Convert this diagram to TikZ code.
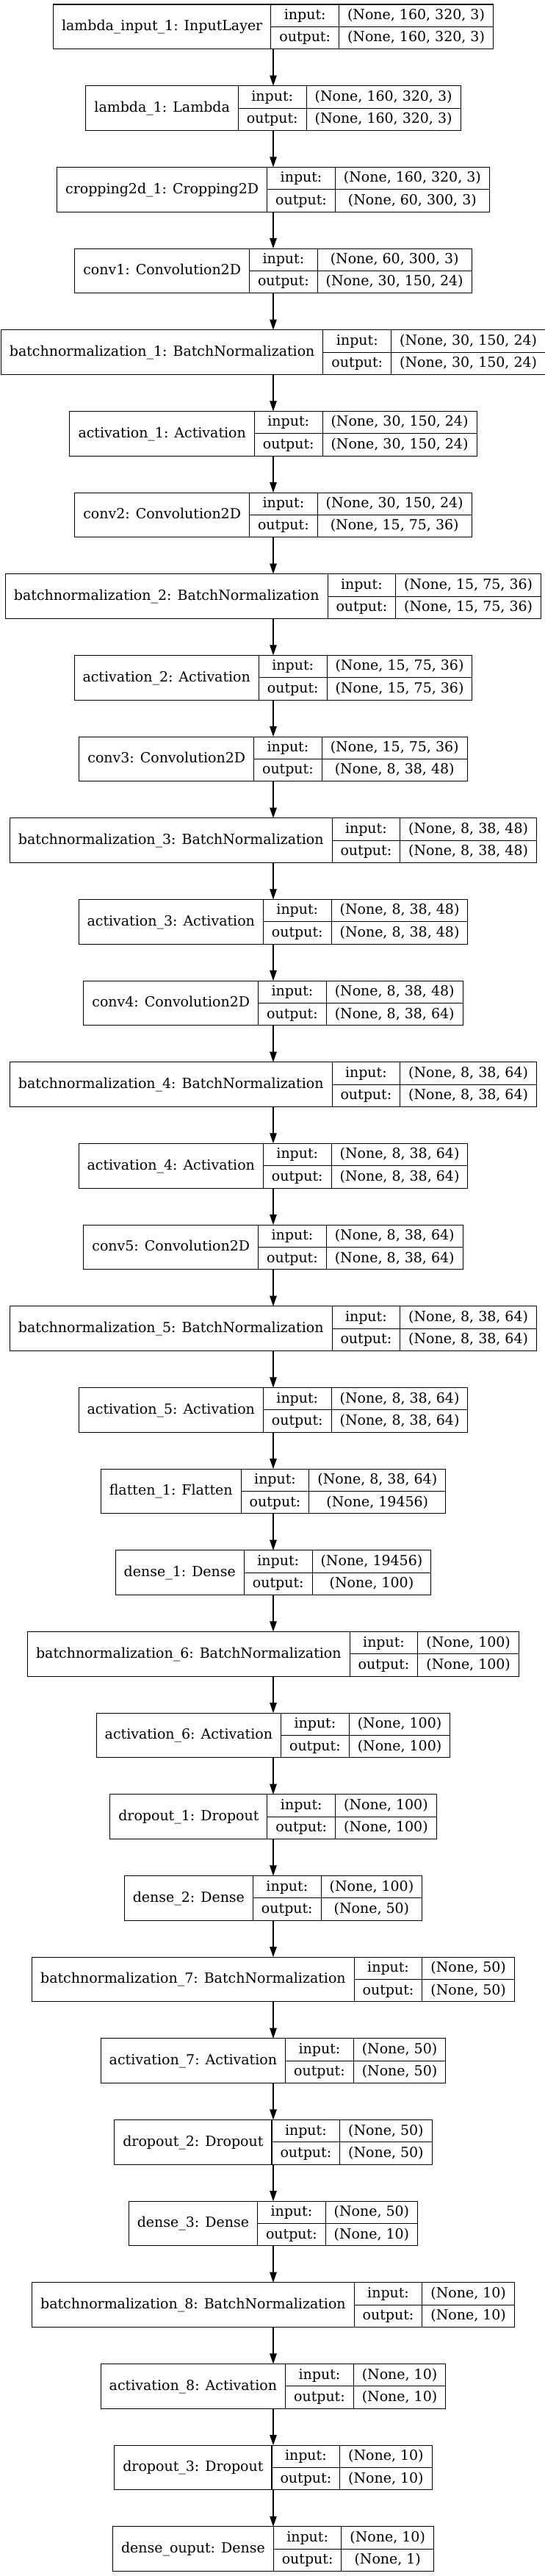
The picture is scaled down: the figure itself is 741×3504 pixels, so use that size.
\documentclass[tikz,border=0pt]{standalone}
\usepackage{fontspec}
\setmainfont{DejaVu Serif}
\usetikzlibrary{arrows.meta,calc}

\newcommand{\lfont}{\fontsize{11.2pt}{13pt}\selectfont}
\newlength\wname \newlength\wport \newlength\wval \newlength\wtmp \newlength\wtot
% width of a text in the layer font, also inside the picture
\newcommand{\getwidth}[2]{%
	\pgfinterruptpicture\settowidth{\wtmp}{\lfont #2}\global#1=\wtmp\endpgfinterruptpicture}
\tikzset{
	layerbox/.style={draw,line width=0.6pt,minimum height=35.84pt,inner sep=0pt,outer sep=0pt},
	cellline/.style={line width=0.6pt},
	celltext/.style={font=\lfont,inner sep=0pt,text height=8.6pt,text depth=2.2pt}
}
% #1 node name, #2 y of the centre, #3 layer, #4 input shape, #5 output shape
\newcommand{\layer}[5]{%
	\getwidth\wname{#3}\addtolength{\wname}{13.6pt}%
	\getwidth\wport{output:}\addtolength{\wport}{13.6pt}%
	\getwidth\wval{#4}\getwidth\wtot{#5}%
	\ifdim\wtot>\wval\setlength{\wval}{\wtot}\fi
	\addtolength{\wval}{13.6pt}%
	\setlength{\wtot}{\dimexpr\wname+\wport+\wval\relax}%
	\node[layerbox,minimum width=\wtot] (#1) at (372,#2) {};
	\coordinate (#1a) at ([xshift=\wname]#1.north west);
	\coordinate (#1b) at ([xshift=\wport]#1a);
	\coordinate (#1p) at ($(#1a)!0.5!(#1b)$);
	\coordinate (#1v) at ($(#1b)!0.5!(#1.north east)$);
	\draw[cellline] (#1a) -- (#1a |- #1.south);
	\draw[cellline] (#1b) -- (#1b |- #1.south);
	\draw[cellline] (#1a |- #1.center) -- (#1.east);
	\node[celltext] at ($(#1.west)!0.5!(#1a |- #1.center)$) {#3};
	\node[celltext] at ($(#1p)+(0pt,-8.96pt)$) {input:};
	\node[celltext] at ($(#1p)+(0pt,-26.88pt)$) {output:};
	\node[celltext] at ($(#1v)+(0pt,-8.96pt)$) {#4};
	\node[celltext] at ($(#1v)+(0pt,-26.88pt)$) {#5};
}

\begin{document}
\begin{tikzpicture}[x=0.5904pt,y=-0.5904pt,>={Triangle[length=8.3pt,width=5.6pt]}]
	\useasboundingbox (0,0) rectangle (741,3504);
	\layer{inp}{36.35}{lambda\_input\_1: InputLayer}{(None, 160, 320, 3)}{(None, 160, 320, 3)}
	\layer{lam}{147.02}{lambda\_1: Lambda}{(None, 160, 320, 3)}{(None, 160, 320, 3)}
	\layer{crop}{257.69}{cropping2d\_1: Cropping2D}{(None, 160, 320, 3)}{(None, 60, 300, 3)}
	\layer{conv1}{368.36}{conv1: Convolution2D}{(None, 60, 300, 3)}{(None, 30, 150, 24)}
	\layer{bn1}{479.03}{batchnormalization\_1: BatchNormalization}{(None, 30, 150, 24)}{(None, 30, 150, 24)}
	\layer{act1}{589.70}{activation\_1: Activation}{(None, 30, 150, 24)}{(None, 30, 150, 24)}
	\layer{conv2}{700.37}{conv2: Convolution2D}{(None, 30, 150, 24)}{(None, 15, 75, 36)}
	\layer{bn2}{811.04}{batchnormalization\_2: BatchNormalization}{(None, 15, 75, 36)}{(None, 15, 75, 36)}
	\layer{act2}{921.71}{activation\_2: Activation}{(None, 15, 75, 36)}{(None, 15, 75, 36)}
	\layer{conv3}{1032.38}{conv3: Convolution2D}{(None, 15, 75, 36)}{(None, 8, 38, 48)}
	\layer{bn3}{1143.05}{batchnormalization\_3: BatchNormalization}{(None, 8, 38, 48)}{(None, 8, 38, 48)}
	\layer{act3}{1253.72}{activation\_3: Activation}{(None, 8, 38, 48)}{(None, 8, 38, 48)}
	\layer{conv4}{1364.39}{conv4: Convolution2D}{(None, 8, 38, 48)}{(None, 8, 38, 64)}
	\layer{bn4}{1475.06}{batchnormalization\_4: BatchNormalization}{(None, 8, 38, 64)}{(None, 8, 38, 64)}
	\layer{act4}{1585.73}{activation\_4: Activation}{(None, 8, 38, 64)}{(None, 8, 38, 64)}
	\layer{conv5}{1696.40}{conv5: Convolution2D}{(None, 8, 38, 64)}{(None, 8, 38, 64)}
	\layer{bn5}{1807.07}{batchnormalization\_5: BatchNormalization}{(None, 8, 38, 64)}{(None, 8, 38, 64)}
	\layer{act5}{1917.74}{activation\_5: Activation}{(None, 8, 38, 64)}{(None, 8, 38, 64)}
	\layer{flat}{2028.41}{flatten\_1: Flatten}{(None, 8, 38, 64)}{(None, 19456)}
	\layer{dns1}{2139.08}{dense\_1: Dense}{(None, 19456)}{(None, 100)}
	\layer{bn6}{2249.75}{batchnormalization\_6: BatchNormalization}{(None, 100)}{(None, 100)}
	\layer{act6}{2360.42}{activation\_6: Activation}{(None, 100)}{(None, 100)}
	\layer{drop1}{2471.09}{dropout\_1: Dropout}{(None, 100)}{(None, 100)}
	\layer{dns2}{2581.76}{dense\_2: Dense}{(None, 100)}{(None, 50)}
	\layer{bn7}{2692.43}{batchnormalization\_7: BatchNormalization}{(None, 50)}{(None, 50)}
	\layer{act7}{2803.10}{activation\_7: Activation}{(None, 50)}{(None, 50)}
	\layer{drop2}{2913.77}{dropout\_2: Dropout}{(None, 50)}{(None, 50)}
	\layer{dns3}{3024.44}{dense\_3: Dense}{(None, 50)}{(None, 10)}
	\layer{bn8}{3135.11}{batchnormalization\_8: BatchNormalization}{(None, 10)}{(None, 10)}
	\layer{act8}{3245.78}{activation\_8: Activation}{(None, 10)}{(None, 10)}
	\layer{drop3}{3356.45}{dropout\_3: Dropout}{(None, 10)}{(None, 10)}
	\layer{dout}{3467.12}{dense\_ouput: Dense}{(None, 10)}{(None, 1)}
	% connections
	\draw [line width=0.6pt,->] (inp.south) -- (lam.north);
	\draw [line width=0.6pt,->] (lam.south) -- (crop.north);
	\draw [line width=0.6pt,->] (crop.south) -- (conv1.north);
	\draw [line width=0.6pt,->] (conv1.south) -- (bn1.north);
	\draw [line width=0.6pt,->] (bn1.south) -- (act1.north);
	\draw [line width=0.6pt,->] (act1.south) -- (conv2.north);
	\draw [line width=0.6pt,->] (conv2.south) -- (bn2.north);
	\draw [line width=0.6pt,->] (bn2.south) -- (act2.north);
	\draw [line width=0.6pt,->] (act2.south) -- (conv3.north);
	\draw [line width=0.6pt,->] (conv3.south) -- (bn3.north);
	\draw [line width=0.6pt,->] (bn3.south) -- (act3.north);
	\draw [line width=0.6pt,->] (act3.south) -- (conv4.north);
	\draw [line width=0.6pt,->] (conv4.south) -- (bn4.north);
	\draw [line width=0.6pt,->] (bn4.south) -- (act4.north);
	\draw [line width=0.6pt,->] (act4.south) -- (conv5.north);
	\draw [line width=0.6pt,->] (conv5.south) -- (bn5.north);
	\draw [line width=0.6pt,->] (bn5.south) -- (act5.north);
	\draw [line width=0.6pt,->] (act5.south) -- (flat.north);
	\draw [line width=0.6pt,->] (flat.south) -- (dns1.north);
	\draw [line width=0.6pt,->] (dns1.south) -- (bn6.north);
	\draw [line width=0.6pt,->] (bn6.south) -- (act6.north);
	\draw [line width=0.6pt,->] (act6.south) -- (drop1.north);
	\draw [line width=0.6pt,->] (drop1.south) -- (dns2.north);
	\draw [line width=0.6pt,->] (dns2.south) -- (bn7.north);
	\draw [line width=0.6pt,->] (bn7.south) -- (act7.north);
	\draw [line width=0.6pt,->] (act7.south) -- (drop2.north);
	\draw [line width=0.6pt,->] (drop2.south) -- (dns3.north);
	\draw [line width=0.6pt,->] (dns3.south) -- (bn8.north);
	\draw [line width=0.6pt,->] (bn8.south) -- (act8.north);
	\draw [line width=0.6pt,->] (act8.south) -- (drop3.north);
	\draw [line width=0.6pt,->] (drop3.south) -- (dout.north);
\end{tikzpicture}
\end{document}
